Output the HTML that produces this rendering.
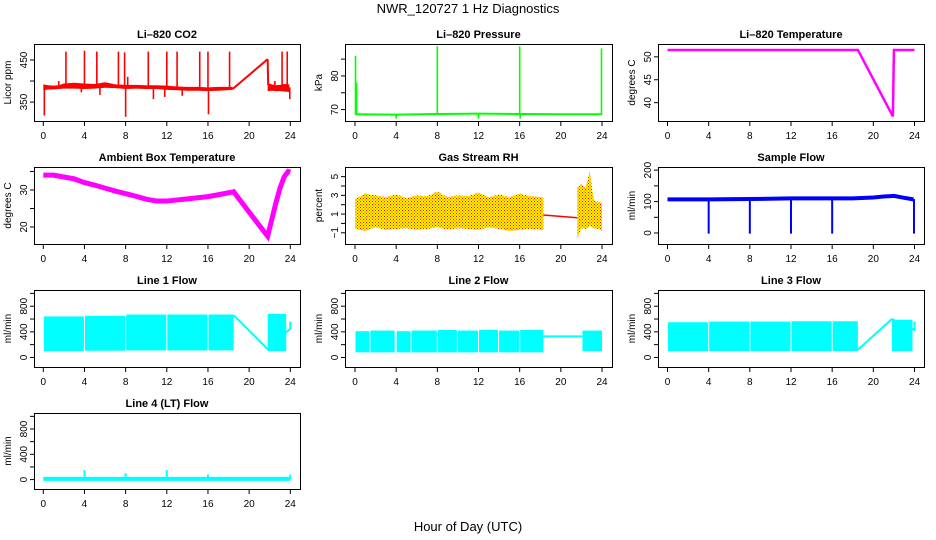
<!DOCTYPE html>
<html><head><meta charset="utf-8"><style>
html,body{margin:0;padding:0;background:#fff;}
svg{display:block;font-family:"Liberation Sans",sans-serif;}
</style></head><body>
<svg id="c" width="936" height="540" viewBox="0 0 936 540">
<text x="468" y="13" text-anchor="middle" font-size="13">NWR_120727  1 Hz Diagnostics</text>
<text x="468" y="531" text-anchor="middle" font-size="13">Hour of Day (UTC)</text>
</svg>
<script>
// ---- data ----
const xTicks = [0,4,8,12,16,20,24];
// CO2
const co2H  = [0,0.5,1,1.5,2,3,4,5,6,7,8,9,10,11,12,13,14,15,16,17,18.4];
const co2Lo = [378,380,380,381,382,382,381,382,384,383,381,382,381,381,379,378,377,377,376,377,379];
const co2Hi = [392,390,389,390,394,396,394,393,397,392,391,391,390,390,389,387,386,386,385,386,386];
const co2RampH = [18.4,21.8];
const co2RampV = [381,452];
const co2PostH  = [21.8,22.2,22.6,23,23.4,23.9];
const co2PostLo = [376,377,376,376,375,374];
const co2PostHi = [396,392,390,391,393,392];
const co2SpikeH = [0.1,2.2,4,5.2,7.3,7.9,8,10.2,10.7,11.8,12,13,13.5,15.2,16,16.05,18.1,23.2,23.7,23.95,1.5,8.2,22.5,3.7,5.5];
const co2SpikeV = [318,470,472,470,470,468,315,470,357,362,470,470,365,470,470,321,470,470,470,357,400,410,400,373,367];
// Pressure
const presH = [0,4,8,12,16,20,24];
const presV = [68.6,68.5,68.7,68.8,68.7,68.6,68.6];
const presSpikeH = [0.05,0.15,4,8,12,16,16.05,23.95];
const presSpikeV = [86,78,67.3,88.8,67.3,88.8,67.3,88.2];
// Li-820 temperature
const tempH = [0,18.5,21.9,22,24];
const tempV = [51.5,51.5,37,51.5,51.5];
// Ambient box temperature
const ambH = [0,1,2,3,4,5,6,7,8,9,10,11,12,13,14,15,16,17,18.5,20,21.8,22.2,22.6,23,23.4,23.8,24];
const ambV = [34,34,33.5,33,32,31.3,30.5,29.7,29,28.3,27.5,27,27,27.3,27.6,27.9,28.2,28.7,29.5,24,17.5,22,26.5,30.5,33.5,35,34.8];
// Gas stream RH
const rhH  = [0,1,2,3,4,5,6,7,8,9,10,11,12,13,14,15,16,17,18.3];
const rhLo = [-0.6,-0.8,-0.4,-0.7,-0.6,-0.5,-0.7,-0.6,-0.4,-0.7,-0.5,-0.6,-0.7,-0.4,-0.6,-0.8,-0.7,-0.6,-0.7];
const rhHi = [2.6,3.2,3.0,2.8,3.1,2.7,3.0,2.9,3.4,2.8,3.0,2.9,3.3,2.8,3.1,2.8,3.2,2.9,2.8];
const rhMidH = [18.3,21.6];
const rhMidV = [0.9,0.6];
const rhPostH  = [21.6,22,22.4,22.8,23.2,23.6,24];
const rhPostLo = [-1.6,-0.5,-0.6,-0.3,-0.5,-0.6,-0.8];
const rhPostHi = [3.8,4.2,3.8,5.6,2.5,2.3,2.2];
// Sample flow
const sfH = [0,4,8,12,16,18,20,21,22,23,23.9];
const sfV = [107,107,108,110,110,110,113,116,118,112,107];
const sfDropH = [4,8,12,16,23.95];
const sfDropV = [-2,-2,-2,-2,-2];
// Line flows: band segments
const l1SegA = [0.05,4.05,8.05,12.05,16.05,21.8];
const l1SegB = [3.95,7.95,11.95,15.95,18.5,23.6];
const l1Lo   = [100,105,110,110,110,100];
const l1Hi   = [640,650,670,670,670,680];
const l1LineH = [18.5,21.8,24,24];
const l1LineV = [660,130,450,560];
const l2SegA = [0.05,1.5,4.05,5.5,8.05,10,12.05,14,16.05,22.1];
const l2SegB = [1.4,3.85,5.4,7.95,9.9,11.95,13.9,15.95,18.3,24];
const l2Lo   = [80,80,80,80,80,80,80,80,80,100];
const l2Hi   = [410,420,410,420,430,420,430,420,430,420];
const l2LineH = [18.3,22.1];
const l2LineV = [330,330];
const l3SegA = [0.05,4.05,8.05,12.05,16.05,21.8];
const l3SegB = [3.95,7.95,11.95,15.95,18.5,23.8];
const l3Lo   = [100,100,100,100,100,100];
const l3Hi   = [550,560,560,565,565,590];
const l3LineH = [18.5,21.8,24,24];
const l3LineV = [120,600,430,560];
const l4H = [0,24];
const l4V = [12,12];
const l4SpikeH = [4,8,12,16,24];
const l4SpikeV = [150,100,150,80,80];

// ---- layout ----
const svg = document.getElementById('c');
const NS = 'http://www.w3.org/2000/svg';
const colX = [[34,300,43.3],[345,612,355],[658,924,667.5]];
const rowY = [[44,121],[167,244],[290,367],[413,489]];
function mk(tag, attrs, parent){
  const e = document.createElementNS(NS, tag);
  for (const k in attrs) e.setAttribute(k, attrs[k]);
  (parent||svg).appendChild(e);
  return e;
}
// pattern for RH
const defs = mk('defs',{});
const pat = mk('pattern',{id:'rhpat',width:3,height:3,patternUnits:'userSpaceOnUse'},defs);
mk('rect',{x:0,y:0,width:3,height:3,fill:'#ffff00'},pat);
mk('rect',{x:0,y:0,width:1,height:1,fill:'#ff0000'},pat);
mk('rect',{x:1.5,y:1.5,width:1,height:1,fill:'#ff0000'},pat);

function panel(col,row,title,ylab,vmin,vmax,ticks,labels,name){
  const [bl,br,x0] = colX[col];
  const [bt,bb] = rowY[row];
  const g = mk('g',{});
  
  
  const xs = h => x0 + h*(247/24);
  const ys = v => bb - (v-vmin)/(vmax-vmin)*(bb-bt);
  const t = mk('text',{x:(bl+br)/2,y:bt-6,'text-anchor':'middle','font-size':11,'font-weight':'bold'},g);
  t.textContent = title;
  
  
  const yl = mk('text',{transform:`translate(${bl-23},${(bt+bb)/2}) rotate(-90)`,'text-anchor':'middle','font-size':10},g);
  yl.textContent = ylab;
  
  
  const ya = mk('g',{},g);
  
  
  ticks.forEach((v,i)=>{
    const y = ys(v);
    mk('line',{x1:bl-4,x2:bl,y1:y,y2:y,stroke:'#000'},ya);
    if (labels[i]!==''){
      const tl = mk('text',{transform:`translate(${bl-7},${y}) rotate(-90)`,'text-anchor':'middle','font-size':10},ya);
      tl.textContent = labels[i];
    }
  });
  const xa = mk('g',{},g);
  
  
  xTicks.forEach(h=>{
    const x = xs(h);
    mk('line',{x1:x,x2:x,y1:bb,y2:bb+5,stroke:'#000'},xa);
    const tl = mk('text',{x:x,y:bb+18,'text-anchor':'middle','font-size':10},xa);
    tl.textContent = h;
  });
  const plot = mk('g',{},g);
  
  
  const box = mk('rect',{x:bl+0.5,y:bt+0.5,width:br-bl,height:bb-bt,fill:'none',stroke:'#000'},g);
  
  
  return {xs,ys,plot};
}
function line(p,H,V,color,w){
  const pts = H.map((h,i)=>p.xs(h)+','+p.ys(V[i])).join(' ');
  return mk('polyline',{points:pts,fill:'none',stroke:color,'stroke-width':w},p.plot);
}
function band(p,H,Lo,Hi,fill){
  const a = H.map((h,i)=>p.xs(h)+','+p.ys(Hi[i]));
  const b = H.map((h,i)=>p.xs(h)+','+p.ys(Lo[i])).reverse();
  return mk('polygon',{points:a.concat(b).join(' '),fill:fill},p.plot);
}
function segs(p,A,B,Lo,Hi,fill){
  A.forEach((a,i)=>{
    const r = mk('rect',{x:p.xs(a),y:p.ys(Hi[i]),width:p.xs(B[i])-p.xs(a),height:p.ys(Lo[i])-p.ys(Hi[i]),fill:fill},p.plot);
    
  });
}
function spikes(p,H,V,base,color,w){
  H.forEach((h,i)=>{
    const l = mk('line',{x1:p.xs(h),x2:p.xs(h),y1:p.ys(base),y2:p.ys(V[i]),stroke:color,'stroke-width':w},p.plot);
    
  });
}

// CO2
let p = panel(0,0,'Li–820 CO2','Licor ppm',305,488,[350,400,450],['350','','450'],'co2');
band(p,co2H,co2Lo,co2Hi,'#ff0000');
line(p,co2RampH,co2RampV,'#ff0000',2);
band(p,co2PostH,co2PostLo,co2PostHi,'#ff0000');
line(p,[21.8,21.85],[452,390],'#ff0000',2);
spikes(p,co2SpikeH,co2SpikeV,385,'#ff0000',1.6);

// Pressure
p = panel(1,0,'Li–820 Pressure','kPa',66.6,89.5,[70,75,80,85],['70','','80',''],'pressure');
line(p,presH,presV,'#00ff00',2);
spikes(p,presSpikeH,presSpikeV,68.6,'#00ff00',1.6);

// Temp
p = panel(2,0,'Li–820 Temperature','degrees C',36,52.8,[40,45,50],['40','45','50'],'li820-temperature');
line(p,tempH,tempV,'#ff00ff',2.5);

// Ambient
p = panel(0,1,'Ambient Box Temperature','degrees C',15.4,36.2,[20,25,30,35],['20','','30',''],'ambient-temperature');
line(p,ambH,ambV,'#ff00ff',5);

// RH
p = panel(1,1,'Gas Stream RH','percent',-2.2,6.03,[-1,0,1,2,3,4,5],['−1','','1','','3','','5'],'gas-stream-rh');
band(p,rhH,rhLo,rhHi,'url(#rhpat)');
line(p,rhMidH,rhMidV,'#ff0000',1.5);
band(p,rhPostH,rhPostLo,rhPostHi,'url(#rhpat)');

// Sample flow
p = panel(2,1,'Sample Flow','ml/min',-35,210,[0,50,100,150,200],['0','','100','','200'],'sample-flow');
line(p,sfH,sfV,'#0000ff',4);
spikes(p,sfDropH,sfDropV,108,'#0000ff',2);

// Line flows
const fTicks = [0,200,400,600,800,1000];
const fLabs = ['0','','400','','800',''];
p = panel(0,2,'Line 1 Flow','ml/min',-149,1053,fTicks,fLabs,'line1-flow');
segs(p,l1SegA,l1SegB,l1Lo,l1Hi,'#00ffff');
line(p,l1LineH,l1LineV,'#00ffff',2);
p = panel(1,2,'Line 2 Flow','ml/min',-149,1053,fTicks,fLabs,'line2-flow');
segs(p,l2SegA,l2SegB,l2Lo,l2Hi,'#00ffff');
line(p,l2LineH,l2LineV,'#00ffff',2);
p = panel(2,2,'Line 3 Flow','ml/min',-149,1053,fTicks,fLabs,'line3-flow');
segs(p,l3SegA,l3SegB,l3Lo,l3Hi,'#00ffff');
line(p,l3LineH,l3LineV,'#00ffff',2);
p = panel(0,3,'Line 4 (LT) Flow','ml/min',-149,1053,fTicks,fLabs,'line4-flow');
line(p,l4H,l4V,'#00ffff',4);
spikes(p,l4SpikeH,l4SpikeV,12,'#00ffff',2);
</script>
</body></html>
